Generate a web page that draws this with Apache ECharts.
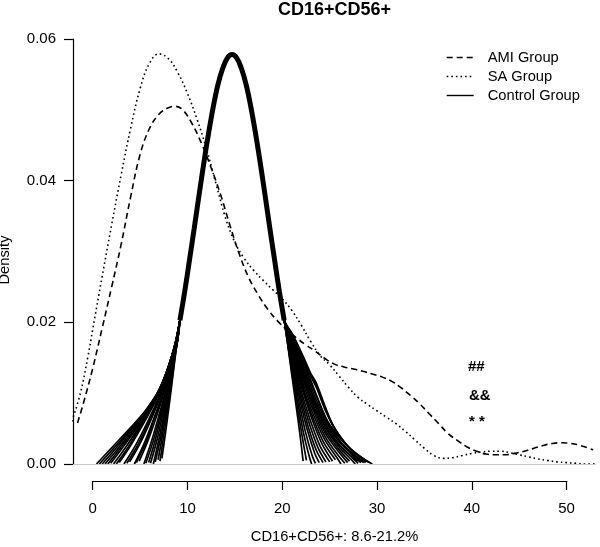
<!DOCTYPE html>
<html><head><meta charset="utf-8">
<script src="https://cdn.jsdelivr.net/npm/echarts@6/dist/echarts.min.js"></script>
<style>html,body{margin:0;padding:0;background:#fff}#c{width:600px;height:547px}</style>
</head><body><div id="c"></div>
<script>
const xTicks = [0, 10, 20, 30, 40, 50];
const yTicks = [0, 0.02, 0.04, 0.06];
const legendNames = ['AMI Group', 'SA Group', 'Control Group'];
const annotations = ['##', '&&', '* *'];

const amiData = [[-1.6,0.0058],[-1,0.0085],[0,0.0135],[1,0.0192],[2,0.0250],[3,0.0310],[4,0.0377],[5,0.0437],[6,0.0474],[7,0.0494],[8,0.0503],[8.7,0.0505],[9.5,0.0500],[10.5,0.0480],[11.5,0.0452],[12.5,0.0418],[13.5,0.0380],[14.5,0.0336],[15.5,0.0295],[16.5,0.0262],[17.5,0.0238],[18.5,0.0218],[19.5,0.0202],[20.5,0.0189],[21.5,0.0178],[22.5,0.0168],[23.5,0.0159],[24.5,0.0149],[25.5,0.0141],[26.5,0.0137],[27.5,0.0134],[28.5,0.0131],[29.5,0.0127],[30.5,0.0123],[31.5,0.0117],[32.5,0.0108],[33.5,0.0097],[34.5,0.0085],[35.5,0.0071],[36.5,0.0057],[37.5,0.0043],[38.5,0.0033],[39.5,0.0024],[40.5,0.0018],[41.5,0.0014],[42.5,0.0013],[43.5,0.0013],[44.5,0.0015],[45.5,0.0018],[46.5,0.0022],[47.5,0.0026],[48.5,0.0029],[49.5,0.0030],[50.5,0.0029],[51.5,0.0026],[52.8,0.0020]];

const saData = [[-2.2,0.0060],[-1.3,0.0100],[-0.5,0.0152],[0,0.0190],[1,0.0265],[2,0.0338],[3,0.0408],[4,0.0474],[5,0.0530],[6,0.0566],[7,0.0579],[8,0.0572],[9,0.0552],[10,0.0523],[11,0.0487],[12,0.0445],[13,0.0396],[14,0.0348],[15,0.0313],[16,0.0290],[17,0.0273],[18,0.0259],[19,0.0246],[20,0.0233],[21,0.0217],[22,0.0196],[23,0.0173],[24,0.0153],[25,0.0140],[26,0.0124],[27,0.0108],[28,0.0094],[29,0.0084],[30,0.0075],[31,0.0066],[32,0.0057],[33,0.0046],[34,0.0034],[35,0.0022],[36,0.0012],[37,0.0008],[38,0.0009],[39,0.0012],[40,0.0015],[41,0.0017],[42,0.0018],[43,0.0018],[44,0.0016],[45,0.0013],[46,0.0010],[47,0.0007],[48,0.0005],[49,0.0003],[50,0.0002],[51,0.0001],[52,0],[53.1,0]];

const controlCore = [[9.2,0.0203],[9.7,0.0243],[10.2,0.0287],[10.7,0.0332],[11.2,0.0378],[11.7,0.0423],[12.2,0.0465],[12.7,0.0503],[13.2,0.0535],[13.7,0.0558],[14.2,0.0573],[14.7,0.0578],[15.2,0.0573],[15.7,0.0558],[16.2,0.0535],[16.7,0.0503],[17.2,0.0465],[17.7,0.0423],[18.2,0.0378],[18.7,0.0332],[19.2,0.0287],[19.7,0.0243],[20.2,0.0203]];

const controlLeftTails = [
 [[0.4,0],[2.0,0.0023],[3.9,0.0050],[5.5,0.0074],[6.75,0.0097],[7.8,0.0130],[8.6,0.0165]],
 [[0.7,0],[2.2,0.0022],[4.0,0.0049],[5.6,0.0076],[6.8,0.0100],[7.85,0.0132],[8.65,0.0167]],
 [[1.0,0],[2.5,0.0023],[4.2,0.0051],[5.7,0.0077],[6.9,0.0102],[7.9,0.0134],[8.7,0.0168]],
 [[1.3,0],[2.8,0.0024],[4.4,0.0052],[5.9,0.0079],[7.0,0.0104],[7.95,0.0136],[8.7,0.0169]],
 [[1.6,0],[3.0,0.0024],[4.6,0.0053],[6.0,0.0080],[7.1,0.0106],[8.0,0.0138],[8.7,0.0170]],
 [[1.9,0.0001],[3.2,0.0024],[4.8,0.0054],[6.1,0.0082],[7.2,0.0109],[8.05,0.0140],[8.75,0.0172]],
 [[2.2,0],[3.5,0.0024],[5.0,0.0055],[6.3,0.0084],[7.3,0.0111],[8.1,0.0142],[8.8,0.0173]],
 [[2.5,0],[3.8,0.0025],[5.2,0.0057],[6.4,0.0086],[7.4,0.0114],[8.15,0.0144],[8.8,0.0174]],
 [[2.8,0.0002],[4.0,0.0026],[5.4,0.0058],[6.6,0.0088],[7.5,0.0116],[8.2,0.0145],[8.8,0.0175]],
 [[3.3,0],[4.5,0.0026],[5.8,0.0060],[6.9,0.0092],[7.7,0.0121],[8.4,0.0152],[8.9,0.0179]],
 [[3.6,0.0001],[4.8,0.0028],[6.0,0.0062],[7.0,0.0093],[7.8,0.0124],[8.45,0.0154],[8.9,0.0180]],
 [[3.9,0.0003],[5.0,0.0029],[6.2,0.0064],[7.1,0.0094],[7.9,0.0126],[8.5,0.0156],[8.9,0.0180]],
 [[4.4,0],[5.4,0.0028],[6.5,0.0066],[7.4,0.0100],[8.1,0.0131],[8.6,0.0159],[9.0,0.0184]],
 [[4.6,0.0002],[5.6,0.0030],[6.6,0.0068],[7.5,0.0102],[8.15,0.0132],[8.65,0.0160],[9.0,0.0184]],
 [[4.9,0.0004],[5.8,0.0032],[6.8,0.0070],[7.6,0.0104],[8.2,0.0134],[8.7,0.0162],[9.0,0.0185]],
 [[5.4,0],[6.2,0.0032],[7.1,0.0074],[7.8,0.0108],[8.3,0.0137],[8.8,0.0166],[9.1,0.0188]],
 [[5.6,0.0001],[6.4,0.0033],[7.25,0.0076],[7.9,0.0110],[8.4,0.0141],[8.85,0.0168],[9.1,0.0188]],
 [[5.9,0.0002],[6.6,0.0034],[7.4,0.0078],[8.0,0.0113],[8.5,0.0145],[8.9,0.0171],[9.1,0.0189]],
 [[6.1,0.0001],[6.8,0.0035],[7.5,0.0077],[8.05,0.0112],[8.55,0.0148],[8.9,0.0171],[9.1,0.0190]],
 [[6.4,0],[7.0,0.0036],[7.6,0.0076],[8.1,0.0112],[8.6,0.0150],[8.9,0.0172],[9.1,0.0190]],
 [[6.6,0.0003],[7.15,0.0036],[7.7,0.0077],[8.2,0.0116],[8.65,0.0153],[8.95,0.0175],[9.1,0.0191]],
 [[6.9,0.0006],[7.3,0.0036],[7.8,0.0078],[8.3,0.0120],[8.7,0.0156],[9.0,0.0178],[9.1,0.0192]],
 [[7.1,0.0004],[7.45,0.0036],[7.85,0.0072],[8.25,0.0108],[8.65,0.0148],[8.95,0.0175],[9.1,0.0193]],
 [[7.3,0.0008],[7.6,0.0036],[7.9,0.0066],[8.2,0.0097],[8.6,0.0140],[8.9,0.0172],[9.1,0.0195]]
];

const controlRightTails = [
 [[20.6,0.0166],[21.0,0.0126],[21.5,0.0078],[21.9,0.0038],[22.2,0.0004]],
 [[20.6,0.0167],[21.05,0.0127],[21.6,0.0080],[22.1,0.0039],[22.55,0.0005]],
 [[20.6,0.0168],[21.1,0.0128],[21.7,0.0082],[22.3,0.0040],[22.9,0.0008],[23.1,0]],
 [[20.65,0.0169],[21.15,0.0130],[21.8,0.0085],[22.45,0.0045],[23.15,0.0012],[23.5,0.0001]],
 [[20.7,0.0170],[21.2,0.0132],[21.9,0.0088],[22.6,0.0050],[23.4,0.0016],[23.9,0.0002]],
 [[20.7,0.0170],[21.25,0.0133],[22.0,0.0090],[22.75,0.0052],[23.6,0.0019],[24.3,0.0002]],
 [[20.7,0.0171],[21.3,0.0135],[22.1,0.0092],[22.9,0.0055],[23.8,0.0022],[24.6,0.0003]],
 [[20.75,0.0172],[21.35,0.0136],[22.2,0.0094],[23.05,0.0058],[24.0,0.0025],[25.0,0.0003]],
 [[20.8,0.0173],[21.4,0.0138],[22.3,0.0097],[23.2,0.0061],[24.2,0.0028],[25.3,0.0004]],
 [[20.8,0.0174],[21.5,0.0141],[22.4,0.0100],[23.4,0.0066],[24.5,0.0034],[25.8,0.0008],[26.2,0]],
 [[20.8,0.0173],[21.45,0.0139],[22.35,0.0098],[23.3,0.0063],[24.35,0.0031],[25.6,0.0006]],
 [[20.85,0.0175],[21.55,0.0142],[22.5,0.0102],[23.45,0.0070],[24.55,0.0038],[25.85,0.0013],[26.6,0.0001]],
 [[20.9,0.0176],[21.6,0.0143],[22.6,0.0104],[23.5,0.0073],[24.6,0.0042],[25.9,0.0018],[26.9,0.0002]],
 [[20.9,0.0176],[21.65,0.0144],[22.65,0.0106],[23.55,0.0075],[24.65,0.0045],[25.95,0.0021],[27.1,0.0004]],
 [[20.9,0.0177],[21.7,0.0146],[22.7,0.0108],[23.6,0.0078],[24.7,0.0048],[26.0,0.0024],[27.3,0.0006],[27.7,0]],
 [[20.95,0.0178],[21.75,0.0147],[22.75,0.0110],[23.6,0.0081],[24.7,0.0051],[26.05,0.0027],[27.45,0.0008],[28.0,0.0001]],
 [[21.0,0.0179],[21.8,0.0149],[22.8,0.0112],[23.6,0.0085],[24.7,0.0054],[26.1,0.0030],[27.6,0.0010],[28.3,0.0002]],
 [[21.0,0.0180],[21.85,0.0150],[22.85,0.0115],[23.6,0.0090],[24.65,0.0059],[26.05,0.0032],[27.6,0.0012],[28.6,0.0002]],
 [[21.0,0.0180],[21.9,0.0151],[22.9,0.0118],[23.6,0.0096],[24.6,0.0064],[26.0,0.0034],[27.6,0.0013],[28.8,0.0002]],
 [[21.0,0.0181],[22.0,0.0153],[23.0,0.0124],[23.6,0.0108],[24.6,0.0074],[25.8,0.0044],[27.4,0.0018],[29.0,0.0003]],
 [[21.05,0.0182],[22.05,0.0154],[23.0,0.0126],[23.6,0.0111],[24.55,0.0078],[25.6,0.0049],[27.0,0.0024],[28.7,0.0006]],
 [[21.1,0.0183],[22.1,0.0155],[23.0,0.0128],[23.6,0.0114],[24.5,0.0082],[25.4,0.0053],[26.6,0.0030],[28.0,0.0012],[29.5,0]],
 [[21.0,0.0182],[22.0,0.0152],[22.9,0.0122],[23.7,0.0094],[24.8,0.0060],[26.0,0.0038],[27.3,0.0020],[28.6,0.0007],[29.2,0.0002]],
 [[20.9,0.0178],[21.8,0.0147],[22.7,0.0113],[23.5,0.0083],[24.5,0.0055],[25.8,0.0030],[27.0,0.0014],[28.0,0.0004]]
];

const X_MIN = -2.08, X_MAX = 53.1, Y_MIN = -0.0024, Y_MAX = 0.06;
const GRID = {left: 73, right: 4, top: 39, bottom: 66};
const FONT = "'Liberation Sans', Arial, Helvetica, sans-serif";

const chart = echarts.init(document.getElementById('c'), null, {renderer: 'canvas'});

const lineBase = {type: 'line', showSymbol: false, symbol: 'none', smooth: 0.4, animation: false};

const series = [];
series.push(Object.assign({}, lineBase, {
  name: legendNames[0], data: amiData, z: 3,
  lineStyle: {color: '#000', width: 1.6, type: [6, 4]}
}));
series.push(Object.assign({}, lineBase, {
  name: legendNames[1], data: saData, z: 3,
  lineStyle: {color: '#000', width: 1.6, type: [1.6, 3]}
}));
controlLeftTails.forEach(function (lt, i) {
  const rt = controlRightTails[i];
  series.push(Object.assign({}, lineBase, {
    name: legendNames[2], data: lt.concat(controlCore, rt), z: 4, smooth: 0.3,
    lineStyle: {color: '#000', width: 1.7, type: 'solid'}
  }));
});
series.push(Object.assign({}, lineBase, {
  name: legendNames[2], data: controlCore, z: 5,
  lineStyle: {color: '#000', width: 5, type: 'solid'}
}));
series.push({
  type: 'line', name: '_zero', data: [], silent: true, animation: false,
  markLine: {silent: true, symbol: 'none', label: {show: false},
    lineStyle: {color: '#c8c8c8', width: 1, type: 'solid'},
    data: [{yAxis: 0}]}
});

const option = {
  backgroundColor: '#fff',
  animation: false,
  title: {
    text: 'CD16+CD56+', left: 278, top: 1, padding: 0,
    textStyle: {fontFamily: FONT, fontSize: 18, fontWeight: 'bold', color: '#000'}
  },
  legend: {
    data: legendNames, orient: 'vertical', left: 441, top: 45,
    itemWidth: 27, itemHeight: 14, itemGap: 4, selectedMode: false,
    itemStyle: {color: 'rgba(0,0,0,0)', borderWidth: 0, opacity: 0},
    lineStyle: {width: 1.4},
    textStyle: {fontFamily: FONT, fontSize: 14.7, color: '#000', padding: [0, 0, 0, 9]}
  },
  grid: {left: GRID.left, right: GRID.right, top: GRID.top, bottom: GRID.bottom, containLabel: false, outerBoundsMode: 'none'},
  xAxis: {
    type: 'value', min: X_MIN, max: X_MAX,
    name: 'CD16+CD56+: 8.6-21.2%', nameLocation: 'middle', nameGap: 48, nameMoveOverlap: false,
    nameTextStyle: {fontFamily: FONT, fontSize: 14.7, color: '#000'},
    axisLine: {show: true, onZero: false, lineStyle: {color: '#000', width: 1.2}},
    axisTick: {show: true, inside: false, customValues: xTicks, length: 9, lineStyle: {color: '#000', width: 1.2}},
    axisLabel: {show: true, customValues: xTicks, margin: 20, fontFamily: FONT, fontSize: 15, color: '#000'},
    splitLine: {show: false}
  },
  yAxis: {
    type: 'value', min: Y_MIN, max: Y_MAX,
    name: 'Density', nameLocation: 'middle', nameGap: 61, nameRotate: 90, nameMoveOverlap: false,
    nameTextStyle: {fontFamily: FONT, fontSize: 14.7, color: '#000'},
    axisLine: {show: true, onZero: false, lineStyle: {color: '#000', width: 1.2}},
    axisTick: {show: true, inside: false, customValues: yTicks, length: 9, lineStyle: {color: '#000', width: 1.2}},
    axisLabel: {show: true, customValues: yTicks, margin: 17, fontFamily: FONT, fontSize: 15, color: '#000',
      formatter: function (v) { return v.toFixed(2); }},
    splitLine: {show: false}
  },
  series: series
};
chart.setOption(option);

// R draws the axis lines only over the tick range: mask the overhang of the full-width axis lines
const pX0 = chart.convertToPixel({gridIndex: 0}, [xTicks[0], Y_MIN]);
const pX1 = chart.convertToPixel({gridIndex: 0}, [xTicks[xTicks.length - 1], Y_MIN]);
const pY0 = chart.convertToPixel({gridIndex: 0}, [X_MIN, yTicks[0]]);
const mask = {fill: '#fff'};
chart.setOption({
  graphic: [
    {type: 'rect', z: 100, silent: true, shape: {x: pY0[0] - 3, y: pX0[1] - 2, width: pX0[0] - 0.8 - (pY0[0] - 3), height: 4}, style: mask},
    {type: 'rect', z: 100, silent: true, shape: {x: pX1[0] + 0.8, y: pX0[1] - 2, width: 600 - pX1[0], height: 4}, style: mask},
    {type: 'rect', z: 100, silent: true, shape: {x: pY0[0] - 2, y: pY0[1] + 1, width: 4, height: pX0[1] + 2 - (pY0[1] + 1)}, style: mask},
    {type: 'text', z: 100, left: 468, top: 359, style: {text: annotations[0], font: 'bold 15px ' + FONT, fill: '#000'}},
    {type: 'text', z: 100, left: 469, top: 388, style: {text: annotations[1], font: 'bold 15px ' + FONT, fill: '#000'}},
    {type: 'text', z: 100, left: 469, top: 414, style: {text: annotations[2], font: 'bold 15px ' + FONT, fill: '#000'}}
  ]
});
</script>
</body></html>
